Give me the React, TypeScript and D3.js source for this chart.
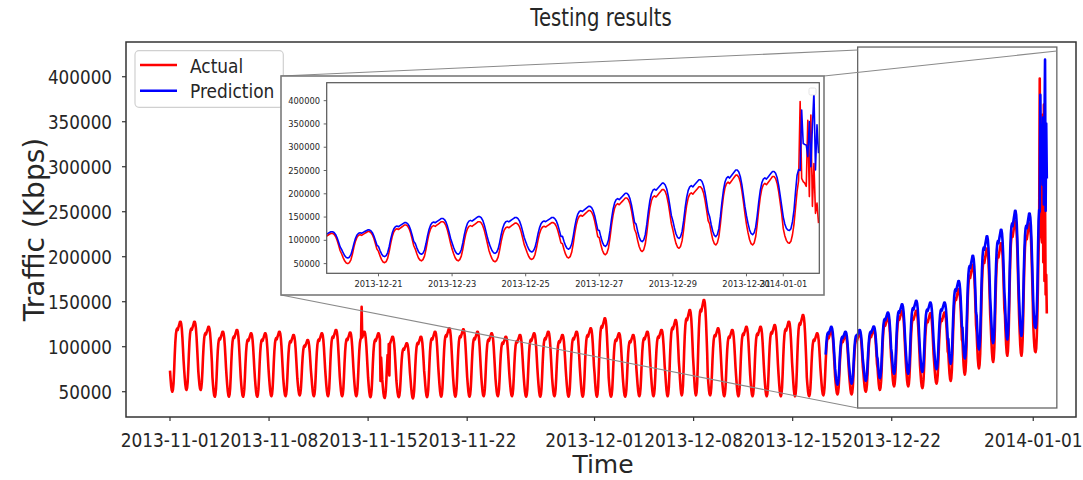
import React from 'react';
import * as d3 from 'd3';

// ---------------- data ----------------
const seriesStartUTC = Date.UTC(2013, 10, 1); // 2013-11-01 00:00, hourly samples

// hourly shape of one day (0 = night trough, 1 = daytime peak)
const dailyProfile = [0.30, 0.18, 0.08, 0.02, 0.0, 0.03, 0.12, 0.30, 0.52, 0.70, 0.82, 0.88,
  0.90, 0.88, 0.91, 0.94, 0.97, 1.0, 1.0, 0.97, 0.90, 0.78, 0.62, 0.45];

// Actual traffic: daily trough / peak, 2013-11-01 .. 2013-12-31
const actualTrough = [50000, 51900, 51900, 44400, 44400, 44400, 44400, 45000, 45000, 46000,
  45000, 45000, 45000, 45000, 44000, 43000, 44000, 42600, 44000, 44500,
  44500, 44500, 45000, 45000, 45000, 44500, 44500, 45000, 44500, 44500,
  44500, 44500, 44500, 45000, 45000, 45000, 46000, 46000, 46000, 45000,
  45000, 45000, 45000, 45000, 45000, 45000, 46000, 47000, 47000, 50000,
  52000, 56000, 56000, 54000, 59000, 62000, 69000, 76000, 83000, 90000, 90000];
const actualPeak = [127800, 127800, 122000, 116700, 118600, 114900, 114900, 116700, 113000, 107400,
  114900, 118600, 115800, 116700, 114900, 111100, 103800, 111100, 116700, 120400,
  119300, 116700, 114900, 111100, 113000, 114900, 116700, 113000, 116700, 120400,
  131500, 114900, 113000, 116700, 118600, 129600, 140800, 151900, 120400, 118600,
  122200, 122200, 124100, 127800, 135200, 114900, 118000, 113000, 115000, 119000,
  133000, 140000, 140000, 137000, 138000, 164000, 191000, 209000, 215000, 240000, 237000];
// 2014-01-01, hourly
const newYearActual = [125000, 110000, 100000, 95000, 94000, 98000, 112000, 135000, 170000, 205000, 228000, 398000,
  233000, 226000, 223000, 216000, 358000, 194000, 369000, 173000, 265000, 158000, 180000, 137000];
// isolated spikes / glitches in the actual series [day, hour, value]
const actualSpikeDays = ['2013-11-14', '2013-11-15', '2013-11-16', '2013-11-16'];
const actualSpikeHours = [13, 21, 10, 12];
const actualSpikeValues = [144400, 62000, 75000, 68000];

// Prediction: starts 2013-12-17 08:00
const predFirstDay = 46;
const predFirstHour = 8;
const predTrough = [58000, 58000, 59000, 62000, 65000, 70000, 70000, 72000, 75000, 81000, 87000, 97000, 104000, 108000, 112000];
const predPeak = [122000, 116700, 118600, 122500, 138000, 147000, 151000, 149000, 149000, 173000, 201000, 222800, 230000, 251000, 248000];
const newYearPred = [150000, 135000, 126000, 122000, 121000, 125000, 140000, 165000, 205000, 240000, 252000, 250000,
  380000, 308000, 306000, 305000, 280000, 355000, 258000, 344000, 419000, 251000, 348000, 287000];

const mainXTicks = ['2013-11-01', '2013-11-08', '2013-11-15', '2013-11-22', '2013-12-01', '2013-12-08', '2013-12-15', '2013-12-22', '2014-01-01'];
const insetXTicks = ['2013-12-21', '2013-12-23', '2013-12-25', '2013-12-27', '2013-12-29', '2013-12-31', '2014-01-01'];
const yTicks = [50000, 100000, 150000, 200000, 250000, 300000, 350000, 400000];

const mainXDomain = [Date.UTC(2013, 9, 28, 21, 23), Date.UTC(2014, 0, 4, 0, 30)];
const mainYDomain = [21900, 438600];
const insetXDomain = [Date.UTC(2013, 11, 19, 14, 13), Date.UTC(2014, 0, 1, 23, 30)];
const insetYDomain = [29200, 438600];
const zoomBoxX = [Date.UTC(2013, 11, 19, 14, 13), Date.UTC(2014, 0, 2, 16, 0)];
const zoomBoxY = [31900, 433000];

// ---------------- build hourly series ----------------
const DAY = 86400000, HOUR = 3600000;
const parseDay = (s: string) => { const [yy, mm, dd] = s.split('-').map(Number); return Date.UTC(yy, mm - 1, dd); };

type Pt = { t: Date; v: number };
function buildSeries(tr: number[], pk: number[], firstDay: number, firstHour: number, tail: number[]): Pt[] {
  const pts: Pt[] = [];
  for (let i = 0; i < tr.length; i++) {
    const d = firstDay + i;
    for (let h = 0; h < 24; h++) {
      if (i === 0 && h < firstHour) continue;
      pts.push({ t: new Date(seriesStartUTC + d * DAY + h * HOUR), v: tr[i] + (pk[i] - tr[i]) * dailyProfile[h] });
    }
  }
  const tailDay = firstDay + tr.length;
  tail.forEach((v, h) => pts.push({ t: new Date(seriesStartUTC + tailDay * DAY + h * HOUR), v }));
  return pts;
}
const actual = buildSeries(actualTrough, actualPeak, 0, 0, newYearActual);
actualSpikeDays.forEach((ds, i) => {
  const tt = parseDay(ds) + actualSpikeHours[i] * HOUR;
  const p = actual.find((q) => q.t.getTime() === tt);
  if (p) p.v = actualSpikeValues[i];
});
const prediction = buildSeries(predTrough, predPeak, predFirstDay, predFirstHour, newYearPred);

// ---------------- layout ----------------
const W = 1083, H = 480;
const M = { left: 126, right: 1076, top: 42, bottom: 417 };
const IN = { left: 326.7, right: 819.3, top: 82.7, bottom: 273.3 };
const INSET_FRAME = { left: 281, right: 824, top: 76, bottom: 295 };
const FONT = 'DejaVu Sans';
const SXX = 0.85; // x tick labels / legend
const SXY = 0.84; // y tick labels

const Txt = ({ x, y, size, sx = 1, anchor = 'middle', rotate = 0, fill = '#262626', children }: any) => (
  <text
    transform={`translate(${x},${y}) scale(${sx},1)${rotate ? ` rotate(${rotate})` : ''}`}
    fontSize={size}
    textAnchor={anchor}
    fontFamily={FONT}
    fill={fill}
  >
    {children}
  </text>
);

export default function App() {
  const x = d3.scaleUtc().domain(mainXDomain).range([M.left, M.right]);
  const y = d3.scaleLinear().domain(mainYDomain).range([M.bottom, M.top]);
  const xi = d3.scaleUtc().domain(insetXDomain).range([IN.left, IN.right]);
  const yi = d3.scaleLinear().domain(insetYDomain).range([IN.bottom, IN.top]);

  const lineMain = d3.line<Pt>().x((d) => x(d.t)).y((d) => y(d.v));
  const lineInset = d3.line<Pt>().x((d) => xi(d.t)).y((d) => yi(d.v));

  const bx0 = x(new Date(zoomBoxX[0])), bx1 = x(new Date(zoomBoxX[1]));
  const by0 = y(zoomBoxY[1]), by1 = y(zoomBoxY[0]);

  return (
    <svg width={W} height={H} style={{ position: 'absolute', left: 0, top: 0, background: '#fff' }}>
      <defs>
        <clipPath id="mainClip"><rect x={M.left} y={M.top} width={M.right - M.left} height={M.bottom - M.top} /></clipPath>
        <clipPath id="insetClip"><rect x={IN.left} y={IN.top} width={IN.right - IN.left} height={IN.bottom - IN.top} /></clipPath>
      </defs>

      {/* title */}
      <Txt x={(M.left + M.right) / 2} y={26} size={24} sx={0.82}>Testing results</Txt>

      {/* main series */}
      <g clipPath="url(#mainClip)">
        <path d={lineMain(actual) || ''} fill="none" stroke="#ff0000" strokeWidth={2.6} strokeLinejoin="round" />
        <path d={lineMain(prediction) || ''} fill="none" stroke="#0000ff" strokeWidth={2.6} strokeLinejoin="round" />
      </g>

      {/* main frame */}
      <rect x={M.left} y={M.top} width={M.right - M.left} height={M.bottom - M.top} fill="none" stroke="#333" strokeWidth={1.5} />

      {/* main x ticks */}
      {mainXTicks.map((s) => {
        const px = x(new Date(parseDay(s)));
        return (
          <g key={s}>
            <line x1={px} x2={px} y1={M.bottom} y2={M.bottom + 4} stroke="#333" strokeWidth={1.2} />
            <Txt x={px} y={446.5} size={20} sx={SXX}>{s}</Txt>
          </g>
        );
      })}
      {/* main y ticks */}
      {yTicks.map((v) => {
        const py = y(v);
        return (
          <g key={v}>
            <line x1={M.left - 4} x2={M.left} y1={py} y2={py} stroke="#333" strokeWidth={1.2} />
            <Txt x={112} y={py + 7.3} size={20} sx={SXY} anchor="end">{String(v)}</Txt>
          </g>
        );
      })}

      {/* axis labels */}
      <Txt x={603} y={473} size={25} sx={1}>Time</Txt>
      <Txt x={44} y={(M.top + M.bottom) / 2} size={28} sx={1} rotate={-90}>Traffic (Kbps)</Txt>

      {/* legend */}
      <rect x={135} y={50.7} width={148.3} height={56.6} rx={4} fill="#fff" fillOpacity={0.85} stroke="#d0d0d0" strokeWidth={1.2} />
      <line x1={140} x2={177} y1={65} y2={65} stroke="#ff0000" strokeWidth={2.4} />
      <line x1={140} x2={177} y1={90.7} y2={90.7} stroke="#0000ff" strokeWidth={2.4} />
      <Txt x={190} y={72.5} size={20} sx={SXX} anchor="start">Actual</Txt>
      <Txt x={190} y={98} size={20} sx={SXX} anchor="start">Prediction</Txt>

      {/* zoom box and connectors */}
      <rect x={bx0} y={by0} width={bx1 - bx0} height={by1 - by0} fill="none" stroke="#666" strokeWidth={1.3} />
      <line x1={INSET_FRAME.left} y1={INSET_FRAME.top} x2={bx0} y2={by0 + 3} stroke="#8a8a8a" strokeWidth={1.1} />
      <line x1={INSET_FRAME.right} y1={INSET_FRAME.top} x2={bx1} y2={by0 + 4} stroke="#8a8a8a" strokeWidth={1.1} />
      <line x1={INSET_FRAME.left} y1={INSET_FRAME.bottom} x2={bx0} y2={by1} stroke="#8a8a8a" strokeWidth={1.1} />

      {/* inset */}
      <rect x={INSET_FRAME.left} y={INSET_FRAME.top} width={INSET_FRAME.right - INSET_FRAME.left} height={INSET_FRAME.bottom - INSET_FRAME.top} fill="#fff" stroke="#7a7a7a" strokeWidth={1.6} />
      <g clipPath="url(#insetClip)">
        <path d={lineInset(actual) || ''} fill="none" stroke="#ff0000" strokeWidth={1.6} strokeLinejoin="round" />
        <path d={lineInset(prediction) || ''} fill="none" stroke="#0000ff" strokeWidth={1.6} strokeLinejoin="round" />
      </g>
      <rect x={IN.left} y={IN.top} width={IN.right - IN.left} height={IN.bottom - IN.top} fill="none" stroke="#555" strokeWidth={1.2} />
      <rect x={809} y={88} width={7} height={7} rx={1.5} fill="#fff" stroke="#ddd" strokeWidth={0.8} />
      {insetXTicks.map((s) => {
        const px = xi(new Date(parseDay(s)));
        return (
          <g key={s}>
            <line x1={px} x2={px} y1={IN.bottom} y2={IN.bottom + 3} stroke="#555" strokeWidth={0.9} />
            <Txt x={px} y={287} size={8.3}>{s}</Txt>
          </g>
        );
      })}
      {yTicks.map((v) => {
        const py = yi(v);
        return (
          <g key={v}>
            <line x1={IN.left - 3} x2={IN.left} y1={py} y2={py} stroke="#555" strokeWidth={0.9} />
            <Txt x={320} y={py + 3} size={8.3} anchor="end">{String(v)}</Txt>
          </g>
        );
      })}
    </svg>
  );
}
